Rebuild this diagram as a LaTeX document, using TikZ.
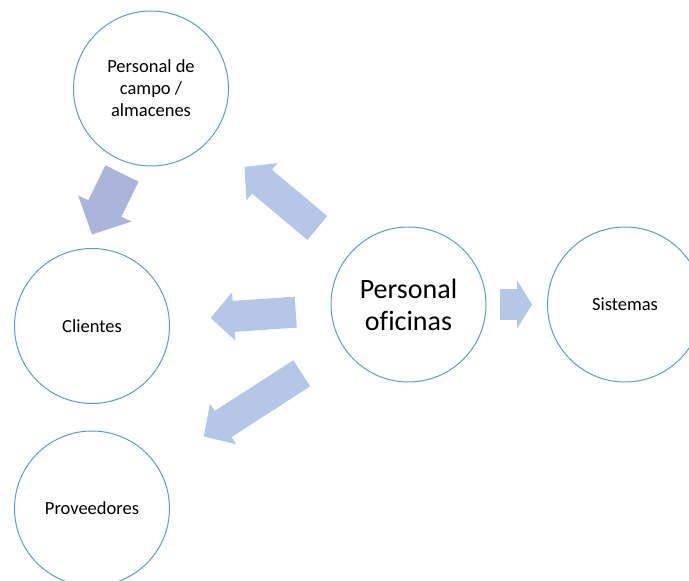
\documentclass[tikz,border=0pt]{standalone}
\usepackage{fontspec}
\setmainfont{Carlito}[Ligatures=NoCommon]
\usetikzlibrary{arrows.meta,calc}

\definecolor{circblue}{RGB}{91,155,213}
\definecolor{arrowblue}{RGB}{180,199,231}
\definecolor{arrowdark}{RGB}{171,181,220}

\begin{document}
\begin{tikzpicture}[x=1pt,y=1pt,
		bubble/.style={circle, draw=circblue, line width=1pt, minimum size=155pt, inner sep=0pt, align=center, font=\fontsize{18.5}{22}\selectfont},
		blockarrow/.style={arrowblue, line width=31pt, -{Triangle[width=48pt,length=#1,line width=2pt]}},
		blockarrow/.default=23pt]
			\useasboundingbox (0,0) rectangle (689,581);
			
			\node[bubble] (campo) at (151,492.5) {Personal de\\campo /\\almacenes};
			\node[bubble] (clientes) at (92,255) {Clientes};
			\node[bubble] (prov) at (92,72.5) {Proveedores};
			\node[bubble, font=\fontsize{28}{32}\selectfont] (ofi) at (408.5,276.5) {Personal\\oficinas};
			\node[bubble] (sist) at (625,276.5) {Sistemas};
			
			\coordinate (c1) at ($(campo.south)+(-29,-7)$);
			\coordinate (c2) at ($(clientes.north)+(0,13.5)$);
			\draw[arrowdark, line width=37pt, -{Triangle[width=59pt,length=29pt,line width=2pt]}] (c1) -- (c2);
			
			\draw[blockarrow, shorten <=41pt, shorten >=44pt] (ofi) -- (campo);
			\draw[blockarrow, shorten <=35pt, shorten >=41pt] (ofi) -- (clientes);
			\draw[blockarrow, shorten <=49pt, shorten >=55pt] (ofi) -- (prov);
			\draw[blockarrow=15pt, shorten <=13pt, shorten >=15pt] (ofi) -- (sist);
		\end{tikzpicture}
\end{document}
